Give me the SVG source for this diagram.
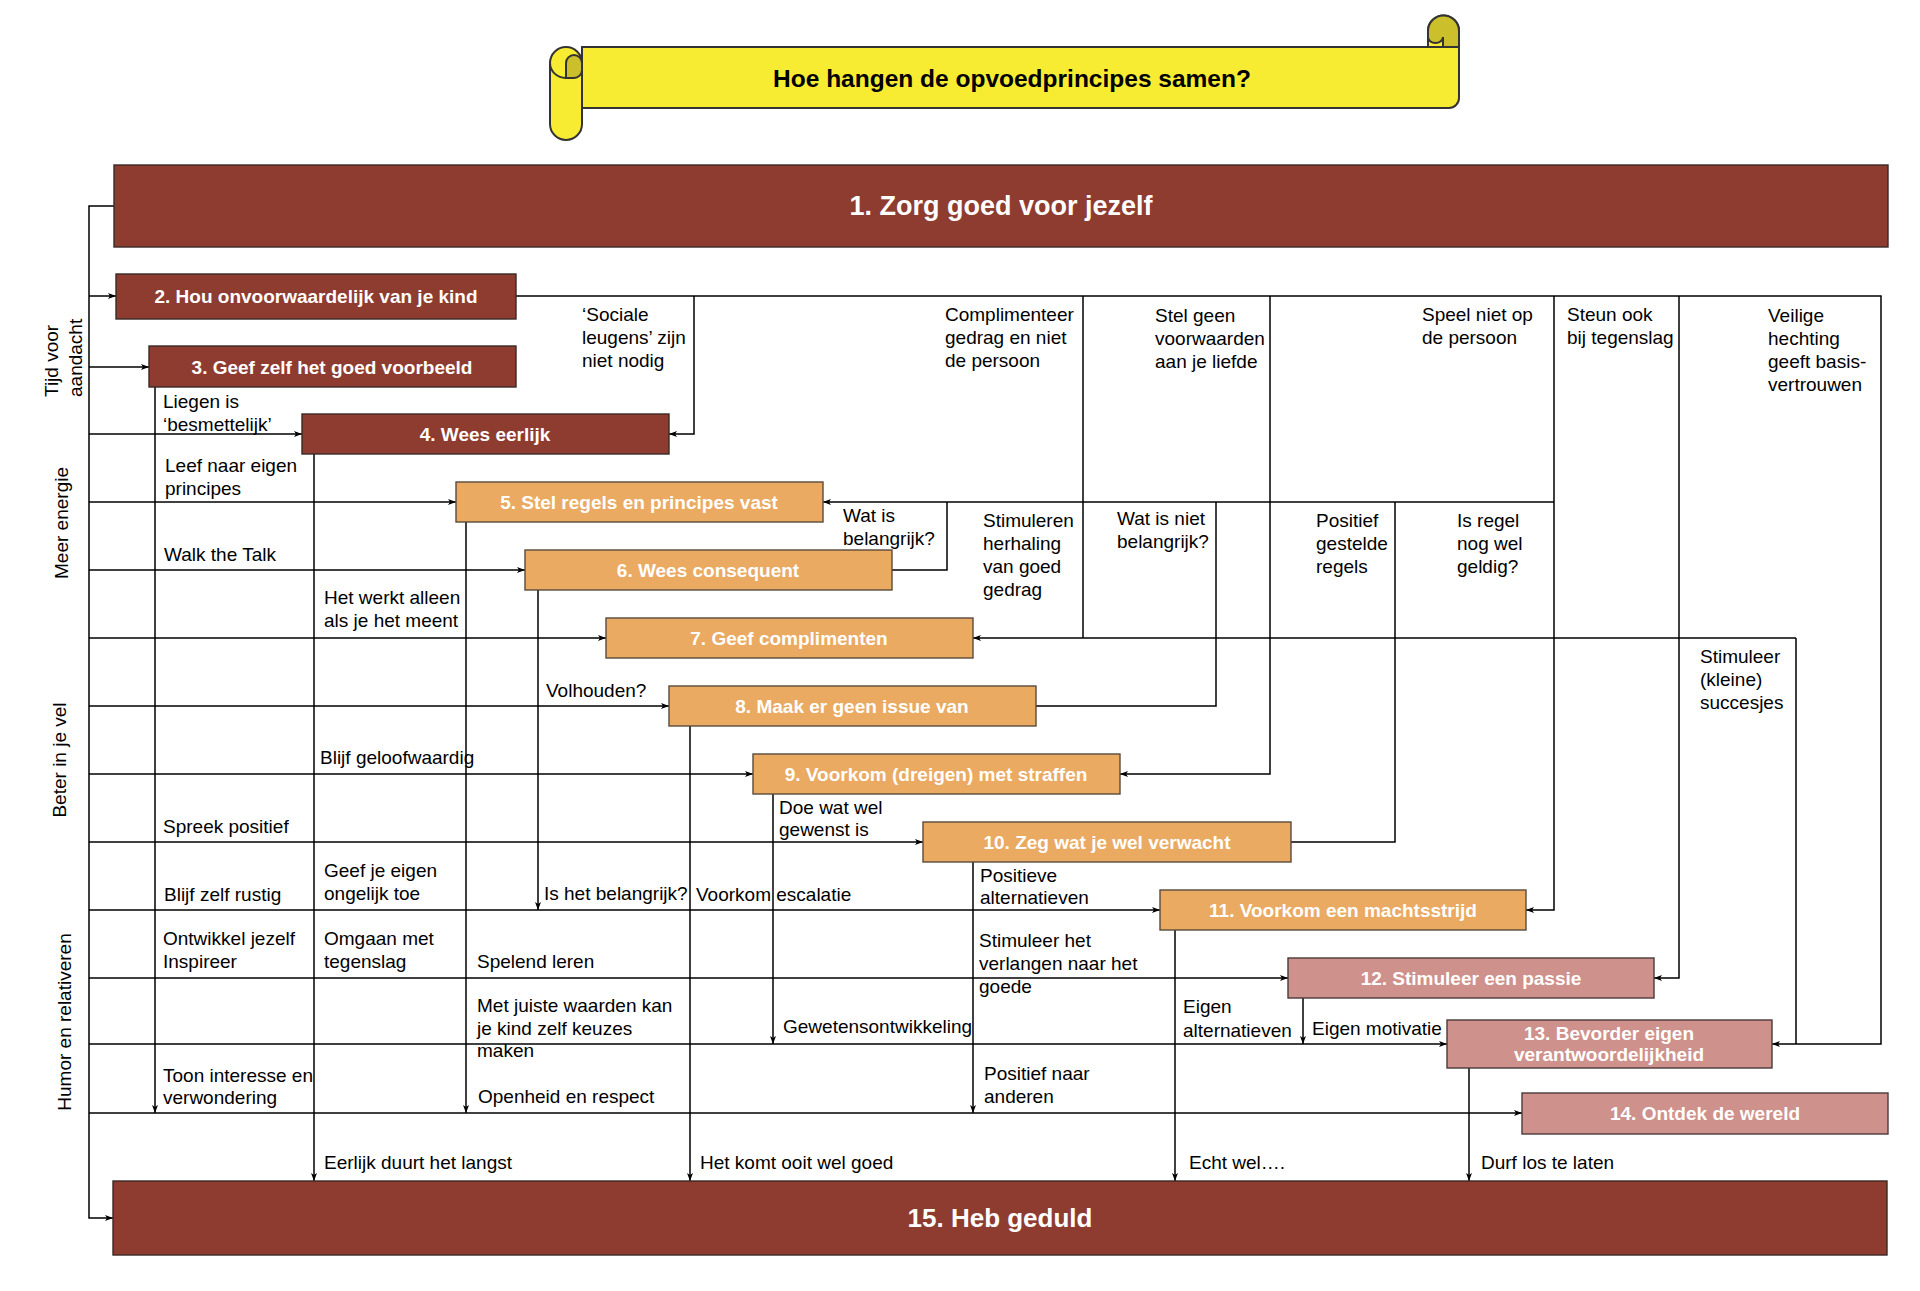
<svg xmlns="http://www.w3.org/2000/svg" width="1920" height="1291" viewBox="0 0 1920 1291">
<defs>
<style>
.dr{fill:#8E3B30;stroke:#3a2a26;stroke-width:1.4}
.or{fill:#EAAA62;stroke:#5a4a3a;stroke-width:1.4}
.pk{fill:#CF918B;stroke:#4a3a3a;stroke-width:1.4}
.bt{font-family:"Liberation Sans",Arial,sans-serif;font-weight:bold;fill:#fff;font-size:19px;text-anchor:middle}
.big{font-size:27px}
.big15{font-size:26px}
.lb{font-family:"Liberation Sans",Arial,sans-serif;font-size:19px;fill:#000}
.rl{font-family:"Liberation Sans",Arial,sans-serif;font-size:19px;fill:#000}
.cn{fill:none;stroke:#000;stroke-width:1.5}
.ar{marker-end:url(#ah)}
.ban{fill:#F8EC32;stroke:#333;stroke-width:2}
.ol{fill:#CBBF2C;stroke:#333;stroke-width:2}
</style>
<marker id="ah" viewBox="0 0 8 6" refX="8" refY="3" markerWidth="8" markerHeight="6" markerUnits="userSpaceOnUse" orient="auto">
<path d="M0,0 L8,3 L0,6 L2,3 Z" fill="#000"/>
</marker>
</defs>
<rect width="1920" height="1291" fill="#fff"/>

<g id="banner">
<path class="ban" d="M582,47 H1428 V31 A15.5,15.5 0 0 1 1459,31 V98 A10,10 0 0 1 1449,108 H582 Z"/>
<path class="ol" d="M1428,47 V31 A15.5,15.5 0 0 1 1459,31 V47 Z"/>
<path class="ban" d="M1428,47 V37 A7.5,6 0 0 0 1443,37 V47 Z"/>
<path class="ban" d="M550,63 A16,16 0 0 1 582,63 V124 A16,16 0 0 1 550,124 Z"/>
<path class="ol" d="M566,78 V63 A8,8 0 0 1 582,63 V70 A8,8 0 0 1 574,78 Z"/>
<path fill="none" stroke="#333" stroke-width="2" d="M550,63 A16,15 0 0 0 566,78 H574"/>
<text x="1012" y="87" font-family="Liberation Sans, Arial, sans-serif" font-weight="bold" font-size="24.5" text-anchor="middle" fill="#000">Hoe hangen de opvoedprincipes samen?</text>
</g>

<g id="connectors">
<path class="cn" d="M114,206 H89 V1218 H113" marker-end="url(#ah)"/>
<path class="cn ar" d="M89,296 H116"/>
<path class="cn ar" d="M89,367 H149"/>
<path class="cn ar" d="M89,434 H302"/>
<path class="cn ar" d="M89,502 H456"/>
<path class="cn ar" d="M89,570 H525"/>
<path class="cn ar" d="M89,638 H606"/>
<path class="cn ar" d="M89,706 H669"/>
<path class="cn ar" d="M89,774 H753"/>
<path class="cn ar" d="M89,842 H923"/>
<path class="cn ar" d="M89,910 H1160"/>
<path class="cn ar" d="M89,978 H1288"/>
<path class="cn ar" d="M89,1044 H1447"/>
<path class="cn ar" d="M89,1113 H1522"/>

<path class="cn ar" d="M155,387 V1113"/>
<path class="cn ar" d="M314,454 V1181"/>
<path class="cn ar" d="M466,522 V1113"/>
<path class="cn ar" d="M538,590 V910"/>
<path class="cn ar" d="M690,726 V1181"/>
<path class="cn ar" d="M773,794 V1044"/>
<path class="cn ar" d="M973,862 V1113"/>
<path class="cn ar" d="M1175,930 V1181"/>
<path class="cn ar" d="M1303,998 V1044"/>
<path class="cn ar" d="M1469,1068 V1181"/>

<path class="cn ar" d="M516,296 H1881 V1044 H1772"/>
<path class="cn ar" d="M694,296 V434 H669"/>
<path class="cn" d="M1083,296 V638"/>
<path class="cn ar" d="M1270,296 V774 H1120"/>
<path class="cn ar" d="M1554,296 V910 H1526"/>
<path class="cn ar" d="M1679,296 V978 H1654"/>
<path class="cn ar" d="M1554,502 H823"/>
<path class="cn" d="M892,570 H947 V502"/>
<path class="cn" d="M1036,706 H1216 V502"/>
<path class="cn" d="M1291,842 H1395 V502"/>
<path class="cn ar" d="M1796,638 H973"/>
<path class="cn" d="M1796,638 V1044"/>
</g>

<g id="n1"><rect class="dr" x="114" y="165" width="1774" height="82"/><text class="bt big" x="1001" y="215">1. Zorg goed voor jezelf</text></g>
<g id="n2"><rect class="dr" x="116" y="274" width="400" height="45"/><text class="bt" x="316" y="303">2. Hou onvoorwaardelijk van je kind</text></g>
<g id="n3"><rect class="dr" x="149" y="346" width="367" height="41"/><text class="bt" x="332" y="374">3. Geef zelf het goed voorbeeld</text></g>
<g id="n4"><rect class="dr" x="302" y="414" width="367" height="40"/><text class="bt" x="485" y="441">4. Wees eerlijk</text></g>
<g id="n5"><rect class="or" x="456" y="482" width="367" height="40"/><text class="bt" x="639" y="509">5. Stel regels en principes vast</text></g>
<g id="n6"><rect class="or" x="525" y="550" width="367" height="40"/><text class="bt" x="708" y="577">6. Wees consequent</text></g>
<g id="n7"><rect class="or" x="606" y="618" width="367" height="40"/><text class="bt" x="789" y="645">7. Geef complimenten</text></g>
<g id="n8"><rect class="or" x="669" y="686" width="367" height="40"/><text class="bt" x="852" y="713">8. Maak er geen issue van</text></g>
<g id="n9"><rect class="or" x="753" y="754" width="367" height="40"/><text class="bt" x="936" y="781">9. Voorkom (dreigen) met straffen</text></g>
<g id="n10"><rect class="or" x="923" y="822" width="368" height="40"/><text class="bt" x="1107" y="849">10. Zeg wat je wel verwacht</text></g>
<g id="n11"><rect class="or" x="1160" y="890" width="366" height="40"/><text class="bt" x="1343" y="917">11. Voorkom een machtsstrijd</text></g>
<g id="n12"><rect class="pk" x="1288" y="958" width="366" height="40"/><text class="bt" x="1471" y="985">12. Stimuleer een passie</text></g>
<g id="n13"><rect class="pk" x="1447" y="1020" width="325" height="48"/><text class="bt" x="1609" y="1040">13. Bevorder eigen</text><text class="bt" x="1609" y="1061">verantwoordelijkheid</text></g>
<g id="n14"><rect class="pk" x="1522" y="1093" width="366" height="41"/><text class="bt" x="1705" y="1120">14. Ontdek de wereld</text></g>
<g id="n15"><rect class="dr" x="113" y="1181" width="1774" height="74"/><text class="bt big15" x="1000" y="1227">15. Heb geduld</text></g>

<g id="side-labels">
<text class="rl" transform="translate(58,397) rotate(-90)">Tijd voor</text>
<text class="rl" transform="translate(82,397) rotate(-90)">aandacht</text>
<text class="rl" text-anchor="middle" transform="translate(68,523) rotate(-90)">Meer energie</text>
<text class="rl" text-anchor="middle" transform="translate(66,760) rotate(-90)">Beter in je vel</text>
<text class="rl" text-anchor="middle" transform="translate(71,1022) rotate(-90)">Humor en relativeren</text>
</g>

<g id="labels" class="lb">
<text x="163" y="408">Liegen is</text>
<text x="163" y="431">&#8216;besmettelijk&#8217;</text>
<text x="165" y="472">Leef naar eigen</text>
<text x="165" y="495">principes</text>
<text x="164" y="561">Walk the Talk</text>
<text x="324" y="604">Het werkt alleen</text>
<text x="324" y="627">als je het meent</text>
<text x="546" y="697">Volhouden?</text>
<text x="320" y="764">Blijf geloofwaardig</text>
<text x="163" y="833">Spreek positief</text>
<text x="779" y="814">Doe wat wel</text>
<text x="779" y="836">gewenst is</text>
<text x="164" y="901">Blijf zelf rustig</text>
<text x="324" y="877">Geef je eigen</text>
<text x="324" y="900">ongelijk toe</text>
<text x="544" y="900">Is het belangrijk?</text>
<text x="696" y="901">Voorkom escalatie</text>
<text x="980" y="882">Positieve</text>
<text x="980" y="904">alternatieven</text>
<text x="163" y="945">Ontwikkel jezelf</text>
<text x="163" y="968">Inspireer</text>
<text x="324" y="945">Omgaan met</text>
<text x="324" y="968">tegenslag</text>
<text x="477" y="968">Spelend leren</text>
<text x="979" y="947">Stimuleer het</text>
<text x="979" y="970">verlangen naar het</text>
<text x="979" y="993">goede</text>
<text x="1183" y="1013">Eigen</text>
<text x="1183" y="1037">alternatieven</text>
<text x="1312" y="1035">Eigen motivatie</text>
<text x="783" y="1033">Gewetensontwikkeling</text>
<text x="477" y="1012">Met juiste waarden kan</text>
<text x="477" y="1035">je kind zelf keuzes</text>
<text x="477" y="1057">maken</text>
<text x="163" y="1082">Toon interesse en</text>
<text x="163" y="1104">verwondering</text>
<text x="478" y="1103">Openheid en respect</text>
<text x="984" y="1080">Positief naar</text>
<text x="984" y="1103">anderen</text>
<text x="324" y="1169">Eerlijk duurt het langst</text>
<text x="700" y="1169">Het komt ooit wel goed</text>
<text x="1189" y="1169">Echt wel&#8230;.</text>
<text x="1481" y="1169">Durf los te laten</text>
<text x="582" y="321">&#8216;Sociale</text>
<text x="582" y="344">leugens&#8217; zijn</text>
<text x="582" y="367">niet nodig</text>
<text x="945" y="321">Complimenteer</text>
<text x="945" y="344">gedrag en niet</text>
<text x="945" y="367">de persoon</text>
<text x="1155" y="322">Stel geen</text>
<text x="1155" y="345">voorwaarden</text>
<text x="1155" y="368">aan je liefde</text>
<text x="1422" y="321">Speel niet op</text>
<text x="1422" y="344">de persoon</text>
<text x="1567" y="321">Steun ook</text>
<text x="1567" y="344">bij tegenslag</text>
<text x="1768" y="322">Veilige</text>
<text x="1768" y="345">hechting</text>
<text x="1768" y="368">geeft basis-</text>
<text x="1768" y="391">vertrouwen</text>
<text x="843" y="522">Wat is</text>
<text x="843" y="545">belangrijk?</text>
<text x="983" y="527">Stimuleren</text>
<text x="983" y="550">herhaling</text>
<text x="983" y="573">van goed</text>
<text x="983" y="596">gedrag</text>
<text x="1117" y="525">Wat is niet</text>
<text x="1117" y="548">belangrijk?</text>
<text x="1316" y="527">Positief</text>
<text x="1316" y="550">gestelde</text>
<text x="1316" y="573">regels</text>
<text x="1457" y="527">Is regel</text>
<text x="1457" y="550">nog wel</text>
<text x="1457" y="573">geldig?</text>
<text x="1700" y="663">Stimuleer</text>
<text x="1700" y="686">(kleine)</text>
<text x="1700" y="709">succesjes</text>
</g>
</svg>
